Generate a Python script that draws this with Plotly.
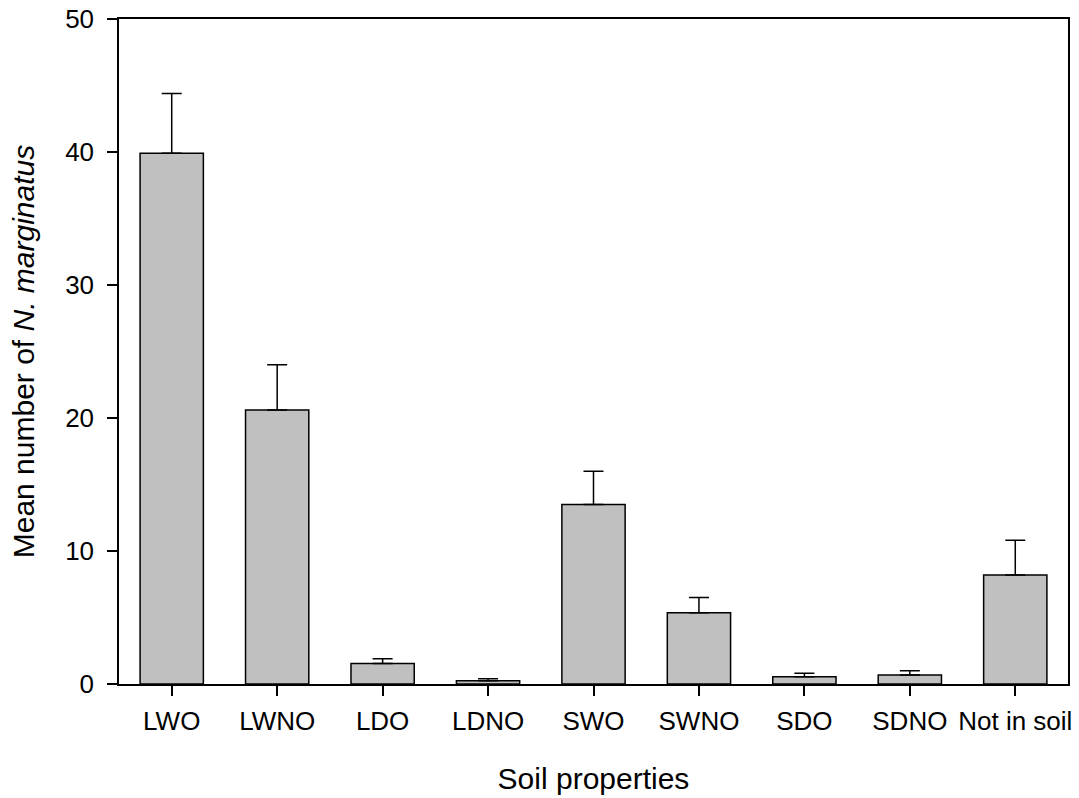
import plotly.graph_objects as go

categories = ["LWO", "LWNO", "LDO", "LDNO", "SWO", "SWNO", "SDO", "SDNO", "Not in soil"]
means = [39.9, 20.6, 1.55, 0.25, 13.5, 5.35, 0.55, 0.68, 8.2]
upper_err = [4.5, 3.4, 0.35, 0.15, 2.5, 1.15, 0.25, 0.32, 2.6]
y_ticks = [0, 10, 20, 30, 40, 50]

FONT = "Liberation Sans, Arial, sans-serif"

fig = go.Figure()
fig.add_trace(go.Bar(
    x=categories,
    y=means,
    marker=dict(color="#c0c0c0", line=dict(color="black", width=1.5)),
    error_y=dict(type="data", array=upper_err, arrayminus=[0] * len(upper_err),
                 symmetric=False, color="black", thickness=1.5, width=10),
))

fig.update_layout(
    width=1079, height=798,
    margin=dict(l=119, r=11, t=19, b=114, autoexpand=False),
    paper_bgcolor="white", plot_bgcolor="white",
    bargap=0.4,
    showlegend=False,
    font=dict(family=FONT, color="black", size=25),
)
fig.update_xaxes(
    type="category", range=[-0.5, 8.5], automargin=False,
    showline=True, linecolor="black", linewidth=1.5, mirror=True,
    ticks="outside", ticklen=10, tickwidth=1.5, tickcolor="black",
    tickfont=dict(size=26, family=FONT, color="black"),
    ticklabelstandoff=3,
    title=dict(text="Soil properties", font=dict(size=30, family=FONT, color="black"), standoff=33),
    showgrid=False, zeroline=False,
)
fig.update_yaxes(
    range=[0, 50], tickvals=y_ticks, automargin=False,
    showline=True, linecolor="black", linewidth=1.5, mirror=True,
    ticks="outside", ticklen=10, tickwidth=1.5, tickcolor="black",
    tickfont=dict(size=26, family=FONT, color="black"),
    ticklabelstandoff=8,
    title=dict(text="Mean number of <i>N. marginatus</i>", font=dict(size=30, family=FONT, color="black"), standoff=22),
    showgrid=False, zeroline=False,
)

fig.write_html("out.html", config={"displayModeBar": False},
               post_script="document.body.style.margin='0';")
